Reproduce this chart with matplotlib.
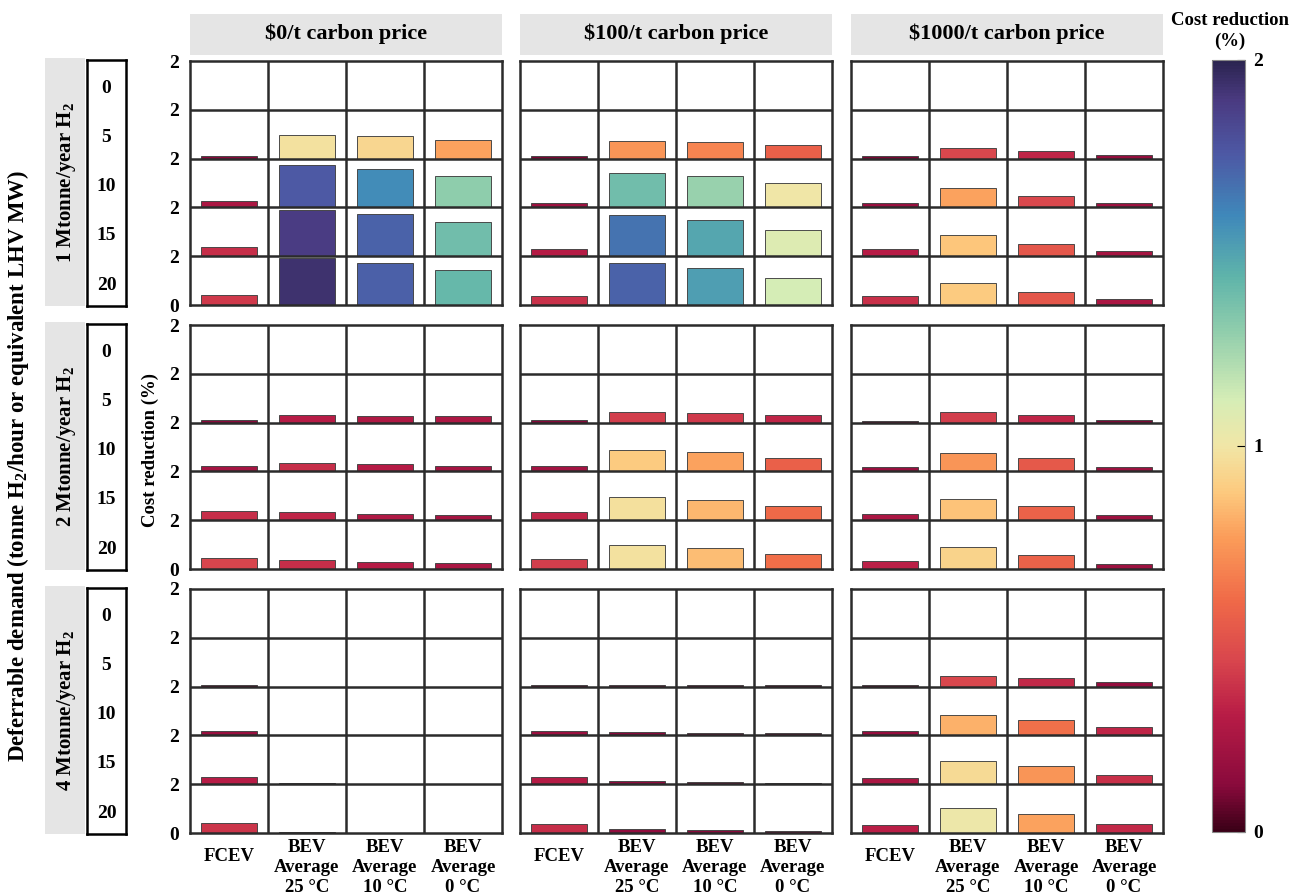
import numpy as np
import matplotlib
matplotlib.use("Agg")
import matplotlib.pyplot as plt
from matplotlib.colors import LinearSegmentedColormap, Normalize
from matplotlib.cm import ScalarMappable
from matplotlib.patches import Rectangle

plt.rcParams['font.family'] = ['Liberation Serif', 'DejaVu Serif']
plt.rcParams['font.weight'] = 'bold'
plt.rcParams['mathtext.fontset'] = 'custom'
plt.rcParams['mathtext.rm'] = 'Liberation Serif:bold'
plt.rcParams['mathtext.it'] = 'Liberation Serif:bold'
plt.rcParams['mathtext.default'] = 'rm'

# 数据: 行 = 可延迟需求 0,5,10,15,20 ; 列 = FCEV, BEV 25C, BEV 10C, BEV 0C
demand_rows = ["0", "5", "10", "15", "20"]
vehicles = ["FCEV", "BEV\nAverage\n25 °C", "BEV\nAverage\n10 °C", "BEV\nAverage\n0 °C"]
carbon_prices = ["$0/t carbon price", "$100/t carbon price", "$1000/t carbon price"]
h2_demands = ["1 Mtonne/year H$_2$", "2 Mtonne/year H$_2$", "4 Mtonne/year H$_2$"]

red_1mt_0 = [[0, 0, 0, 0],
             [0.12, 0.98, 0.93, 0.78],
             [0.25, 1.75, 1.58, 1.30],
             [0.36, 1.89, 1.72, 1.39],
             [0.40, 1.93, 1.73, 1.42]]
red_1mt_100 = [[0, 0, 0, 0],
               [0.10, 0.74, 0.68, 0.56],
               [0.20, 1.39, 1.28, 1.00],
               [0.29, 1.67, 1.49, 1.09],
               [0.38, 1.72, 1.52, 1.12]]
red_1mt_1000 = [[0, 0, 0, 0],
                [0.10, 0.45, 0.33, 0.16],
                [0.18, 0.78, 0.46, 0.20],
                [0.30, 0.87, 0.52, 0.23],
                [0.37, 0.89, 0.52, 0.25]]
red_2mt_0 = [[0, 0, 0, 0],
             [0.12, 0.30, 0.27, 0.26],
             [0.23, 0.36, 0.29, 0.23],
             [0.36, 0.33, 0.27, 0.23],
             [0.44, 0.36, 0.29, 0.25]]
red_2mt_100 = [[0, 0, 0, 0],
               [0.11, 0.42, 0.40, 0.33],
               [0.22, 0.89, 0.78, 0.56],
               [0.33, 0.97, 0.83, 0.60],
               [0.42, 0.98, 0.85, 0.61]]
red_2mt_1000 = [[0, 0, 0, 0],
                [0.08, 0.42, 0.33, 0.10],
                [0.18, 0.74, 0.53, 0.20],
                [0.25, 0.86, 0.57, 0.20],
                [0.32, 0.92, 0.57, 0.20]]
red_4mt_0 = [[0, 0, 0, 0],
             [0.07, 0, 0, 0],
             [0.18, 0.02, 0, 0],
             [0.30, 0.03, 0, 0],
             [0.39, 0.03, 0.01, 0.01]]
red_4mt_100 = [[0, 0, 0, 0],
               [0.07, 0.08, 0.06, 0.05],
               [0.19, 0.12, 0.10, 0.08],
               [0.29, 0.14, 0.10, 0.06],
               [0.36, 0.15, 0.12, 0.10]]
red_4mt_1000 = [[0, 0, 0, 0],
                [0.06, 0.45, 0.35, 0.17],
                [0.17, 0.82, 0.62, 0.33],
                [0.25, 0.95, 0.74, 0.37],
                [0.31, 1.02, 0.78, 0.35]]

panels = [[red_1mt_0, red_1mt_100, red_1mt_1000],
          [red_2mt_0, red_2mt_100, red_2mt_1000],
          [red_4mt_0, red_4mt_100, red_4mt_1000]]

cmap = LinearSegmentedColormap.from_list("spec_ext", [
    (0.00, '#3b0017'), (0.06, '#8a0a3c'), (0.15, '#b81c46'), (0.22, '#d8454d'),
    (0.30, '#f06a48'), (0.38, '#fb9c59'), (0.44, '#fdca7e'), (0.50, '#f1e6a6'),
    (0.56, '#d6edb6'), (0.65, '#8fcdac'), (0.72, '#5fb4aa'), (0.80, '#3f88ba'),
    (0.88, '#4d58a4'), (0.95, '#4a3a80'), (1.00, '#2b2450')])
norm = Normalize(0, 2)

W, H = 1292, 894
def box(x0, y0, x1, y1):
    return [x0 / W, 1 - y1 / H, (x1 - x0) / W, (y1 - y0) / H]

fig = plt.figure(figsize=(W / 100, H / 100), dpi=100)

col_x = [(190, 502), (520, 832), (851, 1163)]
row_y = [(61, 305), (325, 569), (589, 833)]
gridc = '#2b2b2b'
nrow = len(demand_rows)

for i in range(3):
    for j in range(3):
        ax = fig.add_axes(box(col_x[j][0], row_y[i][0], col_x[j][1], row_y[i][1]))
        vals = np.array(panels[i][j])
        for r in range(nrow):
            base = (nrow - 1 - r) * 2
            ax.bar(np.arange(4) + 0.5, vals[r], bottom=base, width=0.72,
                   color=cmap(norm(vals[r])), edgecolor='#404040', linewidth=0.65, zorder=2)
        for k in range(1, 4):
            ax.axvline(k, color=gridc, lw=1.8, zorder=3)
        for k in range(1, nrow):
            ax.axhline(2 * k, color=gridc, lw=1.8, zorder=3)
        ax.set_xlim(0, 4)
        ax.set_ylim(0, 2 * nrow)
        for s in ax.spines.values():
            s.set_color(gridc)
            s.set_linewidth(1.8)
        ax.set_xticks([])
        ax.set_yticks(np.arange(0, 2 * nrow + 1, 2))
        if j == 0:
            ax.set_yticklabels(['0'] + ['2'] * nrow, fontsize=14, fontweight='bold')
            ax.tick_params(axis='y', length=0, pad=8)
        else:
            ax.set_yticklabels([])
            ax.tick_params(axis='y', length=0)
        if i == 2:
            xt = ax.get_xaxis_transform()
            for k, lab in enumerate(vehicles):
                yy = -0.098 if k == 0 else -0.141
                ax.text(k + 0.5, yy, lab, transform=xt, ha='center', va='center',
                        fontsize=13.5, fontweight='bold', linespacing=1.2)
        if i == 0:
            fig.add_artist(Rectangle((col_x[j][0] / W, 1 - 55 / H), (col_x[j][1] - col_x[j][0]) / W,
                                     41 / H, transform=fig.transFigure, facecolor='#e5e5e5',
                                     edgecolor='none'))
            fig.text((col_x[j][0] + col_x[j][1]) / 2 / W, 1 - 34 / H, carbon_prices[j],
                     ha='center', va='center', fontsize=16, fontweight='bold')

    # 左侧条带
    y0, y1 = row_y[i]
    fig.add_artist(Rectangle((45 / W, 1 - (y1 + 1) / H), 40 / W, (y1 - y0 + 4) / H,
                             transform=fig.transFigure, facecolor='#e5e5e5', edgecolor='none'))
    fig.text(66 / W, 1 - (y0 + y1) / 2 / H, h2_demands[i], rotation=90,
             ha='center', va='center', fontsize=15, fontweight='bold')
    sax = fig.add_axes(box(87, y0 - 1, 126, y1 + 1))
    sax.set_xlim(0, 1)
    sax.set_ylim(0, 2 * nrow)
    sax.set_xticks([])
    sax.set_yticks([])
    for s in sax.spines.values():
        s.set_linewidth(1.8)
        s.set_color('black')
    for r, lab in enumerate(demand_rows):
        sax.text(0.5, (nrow - 1 - r) * 2 + 0.85, lab, ha='center', va='center',
                 fontsize=14, fontweight='bold')

fig.text(150 / W, 1 - 450 / H, "Cost reduction (%)", rotation=90, ha='center', va='center',
         fontsize=13.5, fontweight='bold')
fig.text(18 / W, 1 - 466 / H, "Deferrable demand (tonne H$_2$/hour or equivalent LHV MW)",
         rotation=90, ha='center', va='center', fontsize=16.5, fontweight='bold')

cax = fig.add_axes(box(1212, 60, 1245, 832))
cb = fig.colorbar(ScalarMappable(norm=norm, cmap=cmap), cax=cax, ticks=[0, 1, 2])
cb.outline.set_edgecolor('#888888')
cb.outline.set_linewidth(0.8)
cax.tick_params(direction='in', length=6, width=0.8, labelsize=14, pad=6)
for t in cax.get_yticklabels():
    t.set_fontweight('bold')
fig.text(1230 / W, 1 - 31 / H, "Cost reduction\n(%)", ha='center', va='center',
         fontsize=13.5, fontweight='bold', linespacing=1.35)

plt.savefig("out.png", dpi=100)
